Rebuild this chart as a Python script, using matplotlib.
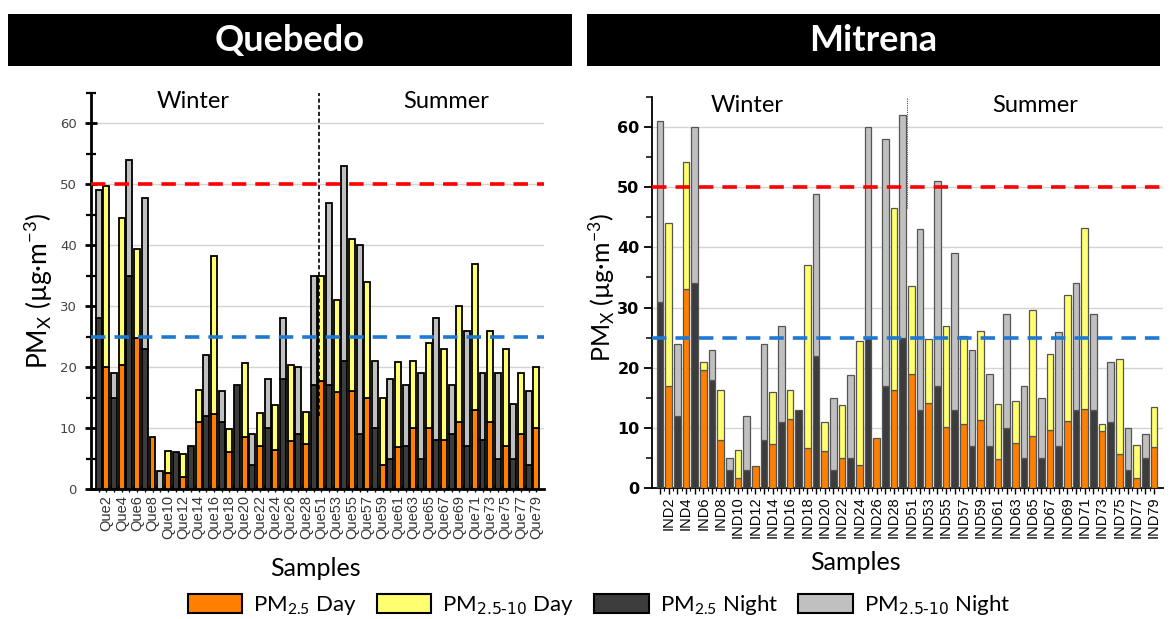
import matplotlib
matplotlib.use("Agg")
import matplotlib.pyplot as plt
from matplotlib.patches import Patch, Rectangle
from matplotlib.ticker import MultipleLocator

plt.rcParams["mathtext.default"] = "regular"

# sample codes: winter campaign 1-28, summer campaign 50-79 (night/day alternating)
que_samples = [f"Que{i}" for i in range(1, 29)] + [f"Que{i}" for i in range(50, 80)]
ind_samples = [f"IND{i}" for i in range(1, 29)] + [f"IND{i}" for i in range(50, 80)]

# PM2.5 and PM10 concentrations (ug/m3), stacked as PM2.5 + PM2.5-10
que_pm25 = [28, 20, 15, 20.3, 35, 24.7, 23, 8.6, 0, 2.6, 6, 1.9, 7, 11, 12, 12.3,
            11, 6, 17, 8.6, 4, 7.1, 10, 6.4, 18, 7.8, 9, 7.4,
            17, 17.8, 17, 15.9, 21, 16, 9, 15, 10, 3.9, 5, 6.9, 7, 10, 5, 10,
            8, 8, 9, 11, 7, 13, 8, 11, 5, 7, 5, 9, 4, 10]
que_pm10 = [49, 49.7, 19, 44.5, 54, 39.4, 47.8, 8.6, 3, 6.3, 6, 5.8, 7, 16.3, 22, 38.2,
            16, 9.8, 17, 20.7, 9, 12.4, 18, 13.8, 28, 20.4, 20, 12.7,
            35, 35, 47, 31, 53, 41, 40, 34, 21, 14.9, 18, 20.9, 17, 21, 19, 24,
            28, 23, 17, 30, 26, 37, 19, 26, 19, 23, 14, 19, 16, 20]

ind_pm25 = [31, 17, 12, 33.1, 34, 19.6, 18, 7.9, 3, 1.6, 3, 3.7, 8, 7.3, 11, 11.5,
            13, 6.6, 22, 6.1, 3, 5, 5, 3.8, 25, 8.3, 17, 16.3,
            25, 19, 13, 14.1, 17, 10.1, 13, 10.7, 7, 11.3, 7, 4.9, 10, 7.5, 5, 8.6,
            5, 9.7, 7, 11.1, 13, 13.2, 13, 9.4, 11, 5.7, 3, 1.7, 5, 6.8]
ind_pm10 = [61, 44, 24, 54.2, 60, 21, 23, 16.3, 5, 6.4, 12, 3.7, 24, 15.9, 27, 16.3,
            13, 37, 48.8, 11, 15, 13.8, 18.8, 24.4, 60, 8.3, 58, 46.6,
            62, 33.6, 43, 24.8, 51, 27, 39, 25.3, 23, 26.1, 19, 13.9, 29, 14.4, 17, 29.6,
            15, 22.3, 26, 32.1, 34, 43.2, 29, 10.6, 21, 21.4, 10, 7.1, 9, 13.4]

C_FINE_DAY = "#ff8000"
C_COARSE_DAY = "#ffff70"
C_FINE_NIGHT = "#3c3c3c"
C_COARSE_NIGHT = "#c0c0c0"

fig = plt.figure(figsize=(11.7, 6.19), dpi=100)


def panel(rect, samples, pm25, pm10, edge, lw, xlim, season_x, split, split_style, tick_kw):
    ax = fig.add_axes(rect)
    x = list(range(len(samples)))
    fine_c = [C_FINE_NIGHT if i % 2 == 0 else C_FINE_DAY for i in x]
    coarse_c = [C_COARSE_NIGHT if i % 2 == 0 else C_COARSE_DAY for i in x]
    coarse = [t - f for f, t in zip(pm25, pm10)]
    for i in x:
        if pm25[i] > 0:
            ax.bar(i, pm25[i], width=0.78, color=fine_c[i], edgecolor=edge, linewidth=lw, zorder=3)
        if coarse[i] > 0:
            ax.bar(i, coarse[i], bottom=pm25[i], width=0.78, color=coarse_c[i],
                   edgecolor=edge, linewidth=lw, zorder=3)
    ax.set_xlim(*xlim)
    ax.set_ylim(0, 65)
    ax.yaxis.set_major_locator(MultipleLocator(10))
    ax.yaxis.set_minor_locator(MultipleLocator(5))
    ax.set_yticks([0, 10, 20, 30, 40, 50, 60])
    ax.set_xticks(x)
    ax.set_xticklabels([s if i % 2 == 1 else "" for i, s in enumerate(samples)],
                       rotation=90, **tick_kw["xlab"])
    ax.set_xticks([i + 0.5 for i in x[:-1]], minor=True)
    for g in range(10, 61, 10):
        ax.axhline(g, color="#d4d4d4", lw=1, zorder=1)
    ax.axhline(50, color="#ff0000", lw=2.6, ls=(0, (4, 2.5)), zorder=4)
    ax.axhline(25, color="#1f78d1", lw=2.6, ls=(0, (4, 2.5)), zorder=4)
    ax.plot([split[0], split[0]], [split[1], 65], **split_style, zorder=5)
    ax.text(season_x[0], 63.6, "Winter", ha="center", va="center", fontsize=17, family="Lato")
    ax.text(season_x[1], 63.6, "Summer", ha="center", va="center", fontsize=17, family="Lato")
    for s in ("top", "right"):
        ax.spines[s].set_visible(False)
    return ax


ax1 = panel([0.0782, 0.21, 0.387, 0.64], que_samples, que_pm25, que_pm10,
            "black", 1.3, (-0.95, 58.05), (12.3, 45.2), (28.7, 11.9),
            dict(color="black", lw=1.2, ls=(0, (2.5, 1.5))),
            {"xlab": dict(fontsize=10.5, color="#333333", family="Liberation Sans")})
for s in ("left", "bottom"):
    ax1.spines[s].set_linewidth(2)
ax1.tick_params(axis="y", which="major", direction="inout", length=9, width=2,
                labelsize=9.5, labelcolor="#444444", pad=6)
ax1.tick_params(axis="y", which="minor", direction="inout", length=7, width=1.6)
ax1.tick_params(axis="x", which="major", direction="inout", length=5, width=1, pad=2)
ax1.tick_params(axis="x", which="minor", direction="in", length=3, width=0.8)

ax2 = panel([0.5573, 0.2116, 0.4368, 0.6317], ind_samples, ind_pm25, ind_pm10,
            "#555555", 0.9, (-0.92, 58.04), (10.1, 43.3), (28.5, 46.5),
            dict(color="#555555", lw=0.8, ls=(0, (1, 1))),
            {"xlab": dict(fontsize=10.5, color="black", family="Liberation Sans")})
for s in ("left", "bottom"):
    ax2.spines[s].set_linewidth(1.3)
ax2.tick_params(axis="y", which="major", direction="out", length=6, width=1.3,
                labelsize=11.5, labelcolor="black", pad=3)
ax2.tick_params(axis="y", which="minor", direction="out", length=4, width=1.1)
ax2.tick_params(axis="x", which="major", direction="out", length=4, width=1, pad=2)
ax2.tick_params(axis="x", which="minor", direction="out", length=2.5, width=0.8)
for lab in ax2.get_yticklabels():
    lab.set_fontweight("bold")

# black site banners
for x0, w, name in ((0.0068, 0.482, "Quebedo"), (0.5017, 0.4897, "Mitrena")):
    fig.patches.append(Rectangle((x0, 0.8934), w, 0.084, transform=fig.transFigure,
                                 facecolor="black", edgecolor="none"))
    fig.text(x0 + w / 2, 0.934, name, color="white", fontsize=26, fontweight="bold",
             family="Lato", ha="center", va="center")

ylab = "PM$_X$ (µg·m$^{-3}$)"
fig.text(0.033, 0.531, ylab, rotation=90, ha="center", va="center", fontsize=19, family="Lato")
fig.text(0.5145, 0.535, ylab, rotation=90, ha="center", va="center", fontsize=18, family="Lato")
fig.text(0.270, 0.082, "Samples", ha="center", va="center", fontsize=18, family="Lato")
fig.text(0.731, 0.0905, "Samples", ha="center", va="center", fontsize=18, family="Lato")

handles = [Patch(facecolor=C_FINE_DAY, edgecolor="black", lw=1.5),
           Patch(facecolor=C_COARSE_DAY, edgecolor="black", lw=1.5),
           Patch(facecolor=C_FINE_NIGHT, edgecolor="black", lw=1.5),
           Patch(facecolor=C_COARSE_NIGHT, edgecolor="black", lw=1.5)]
labels = ["PM$_{2.5}$ Day", "PM$_{\\text{2.5-10}}$ Day",
          "PM$_{2.5}$ Night", "PM$_{\\text{2.5-10}}$ Night"]
fig.legend(handles, labels, loc="center", bbox_to_anchor=(0.512, 0.0226), ncol=4,
           frameon=False, handlelength=2.45, handleheight=0.9, columnspacing=0.9,
           handletextpad=0.5, prop={"family": "Lato", "size": 16})

fig.savefig("out.png", dpi=100)
